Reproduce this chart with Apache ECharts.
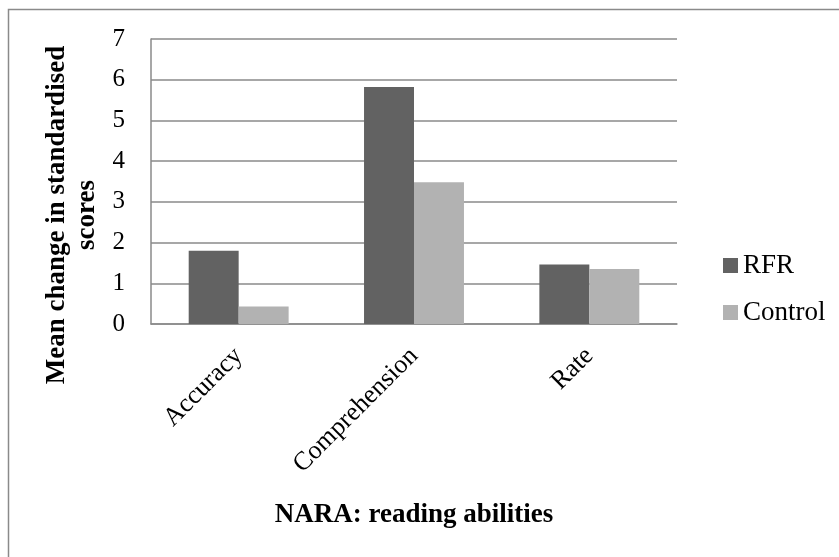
<!DOCTYPE html>
<html>
<head>
<meta charset="utf-8">
<script src="https://cdn.jsdelivr.net/npm/echarts@6/dist/echarts.min.js"></script>
<style>
html,body{margin:0;padding:0;background:#fff;}
#chart{width:839px;height:557px;}
</style>
</head>
<body>
<div id="chart"></div>
<script>
const categories = ['Accuracy', 'Comprehension', 'Rate'];
const rfrValues = [1.80, 5.82, 1.46];
const controlValues = [0.43, 3.48, 1.35];
const seriesNames = ['RFR', 'Control'];
const yAxisTitle = 'Mean change in standardised\nscores';
const xAxisTitle = 'NARA: reading abilities';

const FONT = '"Liberation Serif", "Times New Roman", serif';
const chart = echarts.init(document.getElementById('chart'));
chart.setOption({
  animation: false,
  backgroundColor: '#ffffff',
  textStyle: { fontFamily: FONT, color: '#000' },
  graphic: [
    {
      type: 'rect',
      shape: { x: 8.5, y: 9.5, width: 900, height: 600 },
      style: { fill: 'none', stroke: '#8a8a8a', lineWidth: 1.5 },
      silent: true
    },
    {
      type: 'text',
      x: 72,
      y: 215,
      rotation: Math.PI / 2,
      style: {
        text: yAxisTitle,
        x: 0,
        y: 0,
        textAlign: 'center',
        textVerticalAlign: 'middle',
        font: 'bold 27px "Liberation Serif", serif',
        lineHeight: 30,
        fill: '#000'
      },
      silent: true
    }
  ],
  grid: { left: 151, right: 162, top: 39, bottom: 233, containLabel: false },
  legend: {
    orient: 'vertical',
    left: 718,
    top: 247,
    itemWidth: 15,
    itemHeight: 15,
    itemGap: 20,
    icon: 'rect',
    textStyle: { fontFamily: FONT, fontSize: 27, color: '#000' },
    data: seriesNames
  },
  xAxis: {
    type: 'category',
    data: categories,
    name: xAxisTitle,
    nameLocation: 'middle',
    nameGap: 178,
    nameTextStyle: { fontFamily: FONT, fontSize: 27, fontWeight: 'bold', color: '#000' },
    axisLine: { lineStyle: { color: '#8a8a8a', width: 1.5 } },
    axisTick: { show: false },
    axisLabel: { rotate: 45, margin: 28, fontFamily: FONT, fontSize: 26, color: '#000' }
  },
  yAxis: {
    type: 'value',
    min: 0,
    max: 7,
    interval: 1,
    axisLine: { show: true, lineStyle: { color: '#8a8a8a', width: 1.5 } },
    axisTick: { show: false },
    axisLabel: { margin: 26, fontFamily: FONT, fontSize: 25, color: '#000' },
    splitLine: { lineStyle: { color: '#8a8a8a', width: 1.5 } }
  },
  series: [
    { name: seriesNames[0], type: 'bar', data: rfrValues, itemStyle: { color: '#626262' }, barGap: '0%', barCategoryGap: '43%' },
    { name: seriesNames[1], type: 'bar', data: controlValues, itemStyle: { color: '#b2b2b2' }, barGap: '0%', barCategoryGap: '43%' }
  ]
});
</script>
</body>
</html>
